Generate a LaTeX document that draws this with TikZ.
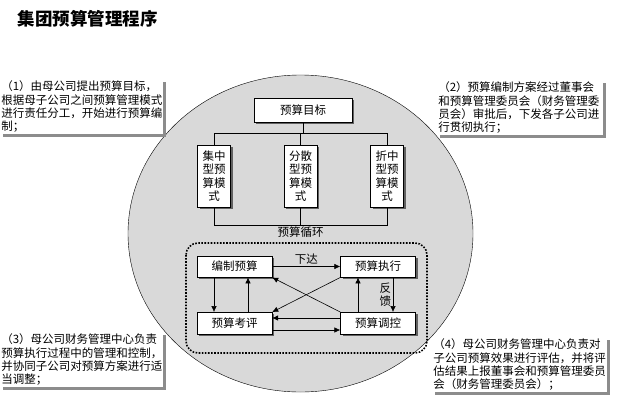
\documentclass[tikz,border=0pt]{standalone}
\usepackage{fontspec}
\newfontfamily\cjk{Noto Sans CJK SC}
\usetikzlibrary{arrows,arrows.meta,positioning,calc,shadows}
\definecolor{discgray}{gray}{0.85}
\definecolor{shadegray}{gray}{0.38}
\definecolor{notegray}{gray}{0.55}

\begin{document}
\begin{tikzpicture}[x=1pt, y=-1pt, >={Latex[length=6pt,width=5.5pt]}, semithick, node distance=86.5pt]
\tikzstyle{every node}=[font=\cjk\fontsize{11.5}{13.4}\selectfont]
\tikzstyle{box}=[draw=black, fill=white, thin, inner sep=0pt, align=center,
  drop shadow={shadow xshift=2pt, shadow yshift=-2pt, fill=shadegray, opacity=1}]
\tikzstyle{stepbox}=[box, minimum width=75pt, minimum height=21.5pt]
\tikzstyle{modebox}=[box, minimum width=33pt, minimum height=62pt]
\tikzstyle{note}=[fill=white, anchor=north west, align=left, inner xsep=1pt, inner ysep=1.5pt,
  drop shadow={shadow xshift=3pt, shadow yshift=-3pt, fill=notegray, opacity=1}]
\useasboundingbox (0,0) rectangle (631,407);

% title
\node[anchor=west, font=\cjk\bfseries\fontsize{17.5}{20}\selectfont] (title) at (14,19) {集团预算管理程序};

% background disc
\draw[fill=discgray, thin] (300.5,233.5) ellipse [x radius=172.5, y radius=158.5];

% notes
\node[note, text width=161pt] (note1) at (0,79) {（1）由母公司提出预算目标，\\根据母子公司之间预算管理模式\\进行责任分工，开始进行预算编\\制；};
\node[note, text width=164pt] (note2) at (437,80) {（2）预算编制方案经过董事会\\和预算管理委员会（财务管理委\\员会）审批后，下发各子公司进\\行贯彻执行；};
\node[note, text width=161pt] (note3) at (0,332) {（3）母公司财务管理中心负责\\预算执行过程中的管理和控制，\\并协同子公司对预算方案进行适\\当调整；};
\node[note, text width=173pt] (note4) at (432,337) {（4）母公司财务管理中心负责对\\子公司预算效果进行评估，并将评\\估结果上报董事会和预算管理委员\\会（财务管理委员会）；};

% budget target and modes
\node[box, minimum width=98pt, minimum height=24pt] (goal) at (303,110) {预算目标};
\node[modebox] (jizhong) at (214,176) {集中\\型预\\算模\\式};
\node[modebox] (fensan)  [right of=jizhong] {分散\\型预\\算模\\式};
\node[modebox] (zhezhong)[right of=fensan]  {折中\\型预\\算模\\式};

\draw (goal.south) -- ++(0,11) coordinate (bus);
\draw (jizhong.north) |- (bus) -| (zhezhong.north);
\draw (fensan.north) -- (fensan.north |- bus);
\draw (jizhong.south) -- ++(0,18) -| (zhezhong.south);
\draw (fensan.south) -- ++(0,18) node[below, inner sep=1.5pt] (cycle) {预算循环};

% budget cycle
\draw[line width=1.6pt, dash pattern=on 1.6pt off 1.5pt, rounded corners=12pt] (186,243) rectangle (427,353);
\node[stepbox] (bianzhi)  at (234.5,266.5) {编制预算};
\node[stepbox] (zhixing)  [right of=bianzhi, node distance=143.5pt] {预算执行};
\node[stepbox] (kaoping)  [below of=bianzhi, node distance=56.5pt] {预算考评};
\node[stepbox] (tiaokong) [right of=kaoping, node distance=143.5pt] {预算调控};

\path[->]
(bianzhi)  edge node[above, inner sep=2pt] {下达} (zhixing)
([xshift=-20.5pt]bianzhi.south) edge ([xshift=-20.5pt]kaoping.north)
([xshift=13.5pt]kaoping.north)  edge ([xshift=13.5pt]bianzhi.south)
([xshift=15pt]zhixing.south)    edge node[left, inner sep=1.5pt, align=center] {反\\馈} ([xshift=15pt]tiaokong.north)
([xshift=-20pt]tiaokong.north)  edge ([xshift=-20pt]zhixing.south)
([yshift=5pt]tiaokong.west)     edge ([yshift=5pt]kaoping.east)
([yshift=-7pt]kaoping.east)     edge ([yshift=-7pt]tiaokong.west)
(zhixing.south west)  edge (kaoping.north east)
(tiaokong.north west) edge (bianzhi.south east);
\end{tikzpicture}
\end{document}
